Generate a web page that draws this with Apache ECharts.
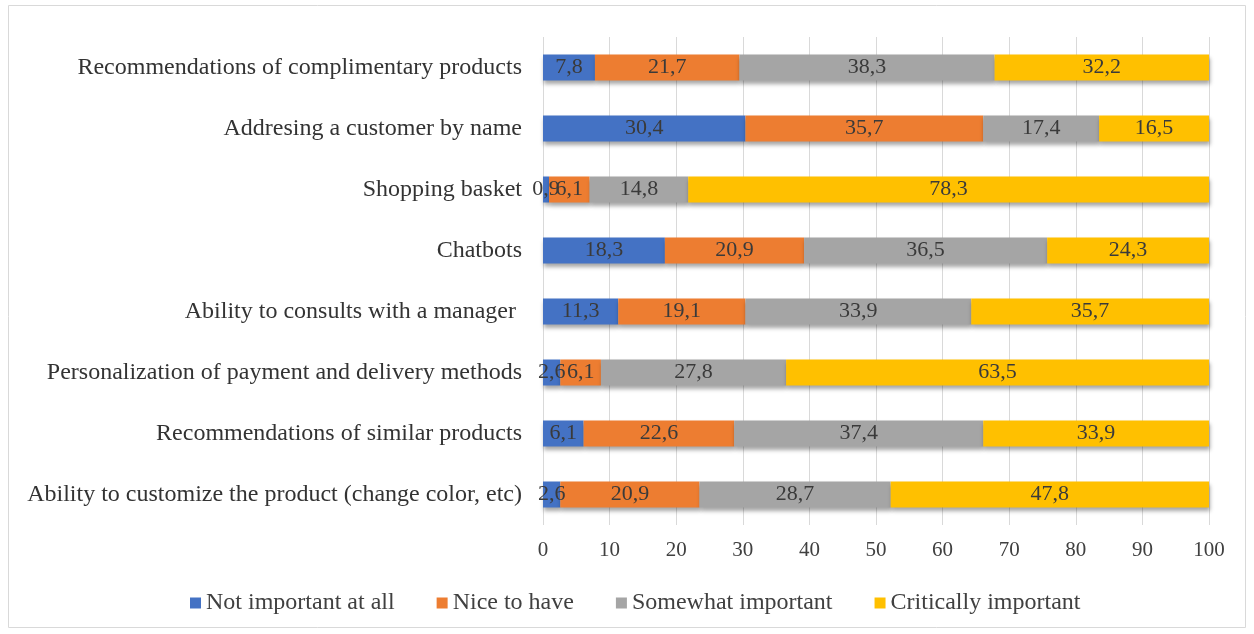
<!DOCTYPE html>
<html><head><meta charset="utf-8">
<script src="https://cdn.jsdelivr.net/npm/echarts@6/dist/echarts.min.js"></script>
<style>html,body{margin:0;padding:0;background:#fff}#c{width:1254px;height:634px}</style>
</head><body><div id="c"></div>
<script>
const categories = [
  "Recommendations of complimentary products",
  "Addresing a customer by name",
  "Shopping basket",
  "Chatbots",
  "Ability to consults with a manager ",
  "Personalization of payment and delivery methods",
  "Recommendations of similar products",
  "Ability to customize the product (change color, etc)"
];
const seriesNames = ["Not important at all", "Nice to have", "Somewhat important", "Critically important"];
const notImportant = [7.8, 30.4, 0.9, 18.3, 11.3, 2.6, 6.1, 2.6];
const niceToHave   = [21.7, 35.7, 6.1, 20.9, 19.1, 6.1, 22.6, 20.9];
const somewhat     = [38.3, 17.4, 14.8, 36.5, 33.9, 27.8, 37.4, 28.7];
const critically   = [32.2, 16.5, 78.3, 24.3, 35.7, 63.5, 33.9, 47.8];
const colors = ["#4472C4", "#ED7D31", "#A5A5A5", "#FFC000"];
const values = [notImportant, niceToHave, somewhat, critically];

const font = "'Liberation Serif', 'DejaVu Serif', serif";
const chart = echarts.init(document.getElementById('c'), null, {renderer: 'canvas'});
chart.setOption({
  animation: false,
  textStyle: {fontFamily: font},
  graphic: [{type: 'rect', shape: {x: 8.5, y: 5.5, width: 1237, height: 622}, style: {fill: 'none', stroke: '#d9d9d9', lineWidth: 1}, silent: true}],
  grid: {left: 543, right: 45, top: 37, bottom: 109, containLabel: false},
  legend: {
    data: seriesNames, top: 586, left: 185,
    itemWidth: 11, itemHeight: 11, itemGap: 42, icon: 'rect',
    textStyle: {fontFamily: font, fontSize: 24, color: '#404040'}
  },
  xAxis: {
    type: 'value', min: 0, max: 100, interval: 10,
    axisLine: {show: false}, axisTick: {show: false},
    splitLine: {show: true, lineStyle: {color: '#d9d9d9', width: 1}},
    axisLabel: {fontFamily: font, fontSize: 21, color: '#404040', margin: 15}
  },
  yAxis: {
    type: 'category', data: categories, inverse: true,
    axisLine: {show: false}, axisTick: {show: false},
    axisLabel: {fontFamily: font, fontSize: 24, color: '#333333', margin: 21}
  },
  series: values.map((v, i) => ({
    name: seriesNames[i], type: 'bar', stack: 'total', data: v, barWidth: 26,
    itemStyle: {color: colors[i], shadowColor: 'rgba(0,0,0,0.35)', shadowBlur: 4, shadowOffsetX: 1, shadowOffsetY: 3},
    label: {show: true, position: 'inside', fontFamily: font, fontSize: 22, color: '#3a3a3a',
      formatter: p => String(p.value).replace('.', ',')}
  }))
});
</script></body></html>
